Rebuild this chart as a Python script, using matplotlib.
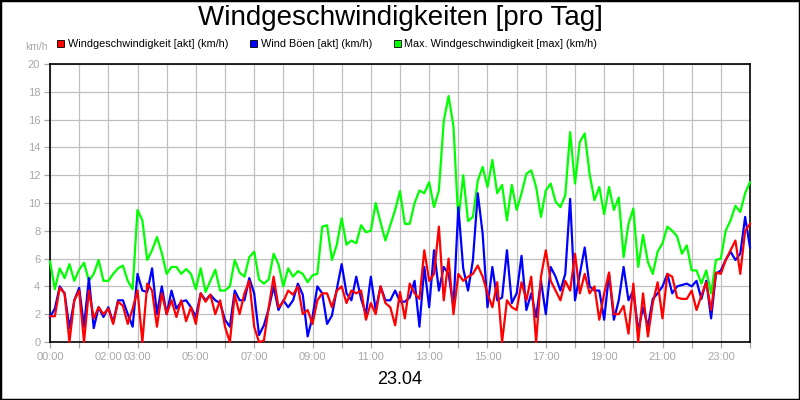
import numpy as np
import matplotlib

matplotlib.use("Agg")
import matplotlib.pyplot as plt  # noqa: E402
from matplotlib.patches import Patch, Rectangle  # noqa: E402

plt.rcParams["font.family"] = ["Liberation Sans", "DejaVu Sans"]

STEP_MIN = 10  # one sample every 10 minutes, 00:00 .. 24:00

# km/h
wind_akt = [
    1.85, 1.85, 3.9, 3.5, 0, 3.0, 3.7, 0, 3.7, 1.7, 2.5, 2.0, 2.4, 1.3, 2.9,
    2.6, 1.3, 2.4, 3.7, 0, 4.2, 3.7, 1.1, 3.5, 2.0, 3.0, 1.8, 3.0, 1.5,
    2.5, 1.3, 3.5, 2.9, 3.4, 2.0, 3.0, 1.1, 0, 3.4, 2.0, 3.5, 4.4, 1.1, 0,
    0.1, 2.5, 4.7, 2.5, 2.9, 3.7, 3.4, 4.0, 2.0, 2.3, 1.3, 3.0, 3.5, 3.5,
    2.5, 3.7, 4.0, 2.8, 3.7, 3.5, 3.7, 1.6, 2.8, 2.0, 4.0, 2.8, 2.5, 1.2, 3.6,
    1.7, 4.2, 3.5, 3.1, 6.6, 4.4, 4.9, 8.3, 3.0, 6.0, 2.0, 4.9, 4.4, 4.7,
    4.9, 5.5, 4.7, 3.5, 2.5, 4.3, 0, 3.0, 2.5, 2.3, 4.3, 3.0, 4.7, 0,
    4.7, 6.6, 4.4, 3.7, 3.0, 4.4, 3.7, 6.35, 3.5, 4.9, 3.5, 4.0, 1.6, 3.5, 5.0,
    2.0, 2.0, 2.6, 0.6, 4.2, 0, 3.5, 0.4, 2.8, 4.3, 1.7, 4.9, 4.7, 3.2,
    3.1, 3.1, 3.7, 2.3, 3.35, 4.3, 2.3, 5.0, 4.9, 5.9, 6.6, 7.3, 4.9, 8.0, 8.5,
]
wind_boeen = [
    1.8, 2.4, 4.0, 3.5, 1.0, 3.0, 3.9, 1.1, 4.6, 1.0, 2.5, 1.8, 2.5, 1.4, 3.0,
    3.0, 2.0, 1.1, 4.9, 3.7, 3.6, 5.3, 2.0, 4.0, 2.0, 3.7, 2.4, 2.9, 3.0,
    2.5, 1.8, 3.5, 3.0, 3.4, 3.0, 2.8, 1.6, 1.1, 3.7, 3.0, 3.0, 4.6, 3.5, 0.5,
    1.2, 2.4, 4.0, 2.3, 3.0, 2.5, 3.0, 4.2, 3.4, 0.4, 1.8, 4.0, 3.5, 1.3,
    1.9, 3.8, 5.6, 3.5, 3.0, 4.7, 3.1, 2.0, 4.7, 2.3, 4.0, 3.0, 3.0, 3.7, 2.9,
    2.9, 3.2, 4.4, 1.1, 5.4, 2.5, 6.6, 3.7, 5.4, 4.9, 2.5, 9.7, 5.3, 3.7,
    5.9, 10.7, 7.8, 2.5, 5.4, 3.0, 3.2, 6.6, 2.8, 3.5, 6.2, 2.3, 3.5, 1.8,
    4.4, 2.0, 5.4, 4.7, 3.7, 4.9, 10.3, 3.0, 4.9, 6.8, 4.0, 3.7, 3.7, 1.6, 4.9,
    1.6, 3.0, 5.4, 3.0, 3.7, 0.8, 2.5, 1.1, 3.1, 3.5, 4.0, 4.9, 3.5, 4.0,
    4.1, 4.2, 4.0, 4.4, 3.1, 4.4, 1.7, 4.9, 5.15, 5.9, 6.5, 5.9, 6.35, 9.0, 6.8,
]
wind_max = [
    5.8, 3.8, 5.3, 4.6, 5.6, 4.4, 5.2, 5.7, 4.4, 4.9, 5.9, 4.4, 4.4, 4.9, 5.3,
    5.5, 4.4, 3.8, 9.5, 8.75, 5.9, 6.6, 7.55, 6.4, 4.9, 5.4, 5.4, 4.9, 5.25,
    4.9, 3.8, 5.3, 3.6, 4.4, 5.2, 3.7, 3.7, 4.0, 5.9, 5.0, 4.7, 6.1, 6.5, 4.5,
    4.2, 4.5, 6.35, 5.6, 4.0, 5.3, 4.7, 5.1, 4.9, 4.3, 4.8, 4.9, 8.3, 8.4,
    5.9, 7.0, 8.9, 7.0, 7.3, 7.1, 8.4, 7.9, 8.0, 10.0, 8.6, 7.3, 8.4, 9.5, 10.85,
    8.5, 8.5, 10.0, 10.9, 10.7, 11.5, 9.7, 10.9, 15.9, 17.7, 15.5, 8.75, 12.0, 8.7,
    9.0, 11.6, 12.6, 11.15, 13.1, 10.7, 11.3, 8.75, 11.3, 9.5, 10.7, 12.1, 12.35, 11.15,
    9.0, 10.9, 11.4, 10.1, 9.7, 10.55, 15.1, 11.4, 14.4, 15.0, 12.1, 10.2, 11.15, 9.2, 11.15,
    9.5, 10.4, 6.1, 8.5, 9.6, 5.4, 7.7, 5.75, 4.9, 6.5, 7.1, 8.3, 8.0, 7.6,
    6.35, 6.95, 5.15, 5.15, 4.2, 5.15, 3.5, 5.9, 6.0, 8.0, 8.75, 9.8, 9.35, 10.7, 11.5,
]
hours = np.arange(len(wind_akt)) * STEP_MIN / 60.0

series_labels = ["Windgeschwindigkeit [akt] (km/h)", "Wind Böen [akt] (km/h)",
                 "Max. Windgeschwindigkeit [max] (km/h)"]
series_colors = ["#ff0000", "#0000ff", "#00ff00"]
y_ticks = list(range(0, 21, 2))
x_label_hours = [0, 2, 3, 5, 7, 9, 11, 13, 15, 17, 19, 21, 23]
title = "Windgeschwindigkeiten [pro Tag]"
date_label = "23.04"

W, H = 800, 400
fig = plt.figure(figsize=(W / 100, H / 100), dpi=100)
ax = fig.add_axes([50 / W, 58 / H, 700 / W, 278 / H])

# green below, red on top
for vals, col in ((wind_max, series_colors[2]), (wind_boeen, series_colors[1]),
                  (wind_akt, series_colors[0])):
    ax.plot(hours, vals, color=col, lw=1.6, clip_on=False, zorder=3)

ax.set_xlim(0, 24)
ax.set_ylim(0, 20)
ax.set_xticks(range(25))
ax.set_xticklabels([f"{h:02d}:00" if h in x_label_hours else "" for h in range(25)])
ax.set_yticks(y_ticks)
ax.grid(color="#c0c0c0", lw=0.9)
ax.set_axisbelow(True)
ax.tick_params(color="#a8a8a8", labelcolor="#a8a8a8", labelsize=8, length=4,
               width=0.9, pad=3)
for sp in ax.spines.values():
    sp.set_color("black")
    sp.set_linewidth(1.2)

handles = [Patch(facecolor=c, edgecolor="black", lw=0.6) for c in series_colors]
fig.legend(handles, series_labels, loc="center left",
           bbox_to_anchor=(57 / W, 1 - 44 / H), ncol=3, frameon=False, fontsize=7.8,
           handlelength=0.65, handleheight=0.65, handletextpad=0.35,
           columnspacing=2.0, borderpad=0, borderaxespad=0)

fig.text(0.5, 1 - 18 / H, title, ha="center", va="center", fontsize=20)
fig.text(37 / W, 1 - 47 / H, "km/h", ha="center", va="center", fontsize=7.5,
         color="#a8a8a8")
fig.text(0.5, 1 - 380 / H, date_label, ha="center", va="center", fontsize=13)
fig.patches.append(Rectangle((0, 0), 1, 1, transform=fig.transFigure, fill=False,
                             edgecolor="black", lw=2.5))

fig.savefig("out.png", dpi=100)
